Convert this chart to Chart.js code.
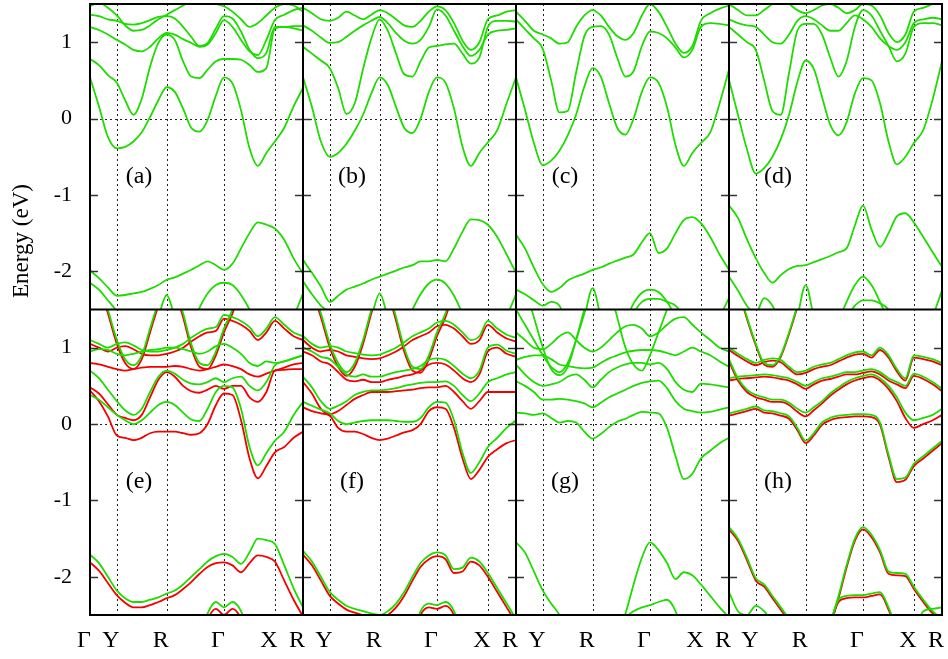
<!DOCTYPE html>
<html>
<head>
<meta charset="utf-8">
<script src="https://cdn.jsdelivr.net/npm/chart.js@4.4.1/dist/chart.umd.min.js"></script>
<style>
  html, body { margin: 0; padding: 0; background: #fff; }
  #wrap { width: 948px; height: 659px; }
</style>
</head>
<body>
<div id="wrap"><canvas id="bands" width="948" height="659"></canvas></div>
<script>
// k-path sample positions (fraction of one panel) and symmetry points
const kFrac = [0, 0.042, 0.084, 0.126, 0.165, 0.204, 0.243, 0.282, 0.321, 0.36, 0.398, 0.437, 0.475,
               0.514, 0.552, 0.591, 0.629, 0.669, 0.709, 0.749, 0.788, 0.828, 0.868, 0.912, 0.956, 1.0];
const nodeFrac = [0, 0.126, 0.36, 0.629, 0.868, 1];
const nodeNames = ['Γ', 'Y', 'R', 'Γ', 'X', 'R'];
const panelTags = ['(a)', '(b)', '(c)', '(d)', '(e)', '(f)', '(g)', '(h)'];
const energyTicks = [1, 0, -1, -2];
const eMin = -2.5, eMax = 1.5;

// band that only shows on part of the path
function part(start, vals) {
    const a = new Array(kFrac.length).fill(null);
    vals.forEach((v, i) => { a[start + i] = v; });
    return a;
}

// ---- (a)
const a1 = [0.54, 0.16, -0.24, -0.39, -0.37, -0.30, -0.18, 0.02, 0.24, 0.41, 0.35, 0.13, -0.12, -0.17, -0.02, 0.30, 0.54, 0.46, 0.11, -0.39, -0.62, -0.45, -0.30, -0.12, 0.16, 0.40];
const a2 = [0.78, 0.70, 0.57, 0.47, 0.24, 0.05, 0.26, 0.68, 0.99, 1.10, 1.03, 0.75, 0.55, 0.53, 0.64, 0.75, 0.78, 0.78, 0.77, 0.70, 0.61, 0.66, 1.18, 1.20, 1.21, 1.21];
const a3 = [1.20, 1.16, 1.10, 1.03, 0.97, 0.90, 0.88, 0.94, 1.05, 1.12, 1.10, 1.04, 0.99, 0.94, 0.97, 1.12, 1.29, 1.20, 1.03, 0.88, 0.83, 1.03, 1.29, 1.36, 1.42, 1.45];
const a4 = [1.36, 1.34, 1.30, 1.28, 1.24, 1.23, 1.25, 1.29, 1.33, 1.34, 1.31, 1.20, 1.07, 0.95, 0.99, 1.18, 1.34, 1.31, 1.14, 0.90, 0.79, 0.86, 1.20, 1.20, 1.18, 1.15];
const a5 = [1.47, 1.52, 1.45, 1.35, 1.22, 1.15, 1.16, 1.22, 1.30, 1.36, 1.42, 1.48, 1.55, 1.58, 1.55, 1.50, 1.47, 1.40, 1.30, 1.20, 1.25, 1.35, 1.45, 1.50, 1.48, 1.40];
const aV1 = [-1.99, -2.09, -2.21, -2.32, -2.31, -2.29, -2.27, -2.23, -2.18, -2.11, -2.08, -2.03, -1.98, -1.92, -1.87, -1.92, -1.98, -1.90, -1.70, -1.50, -1.36, -1.39, -1.44, -1.59, -1.83, -2.03];
const aV2 = part(0, [-2.15, -2.24, -2.38, -2.53, -2.75]);
const aV3 = part(12, [-2.75, -2.48, -2.29, -2.18, -2.15, -2.18, -2.31, -2.50, -2.75]);
const aV4 = part(8, [-2.60, -2.31, -2.60]);
const aV5 = part(24, [-2.60, -2.29]);

// ---- (b)
const b1 = [0.54, 0.15, -0.30, -0.50, -0.45, -0.33, -0.16, 0.05, 0.33, 0.54, 0.44, 0.15, -0.12, -0.19, 0.00, 0.35, 0.54, 0.47, 0.13, -0.37, -0.62, -0.45, -0.31, -0.15, 0.20, 0.54];
const b2 = [0.94, 0.85, 0.76, 0.66, 0.40, 0.06, 0.20, 0.65, 1.05, 1.30, 1.15, 0.85, 0.58, 0.55, 0.75, 0.93, 0.95, 0.97, 0.98, 0.85, 0.72, 0.80, 1.20, 1.28, 1.28, 1.27];
const b3 = [1.22, 1.15, 1.06, 0.99, 1.00, 1.07, 1.15, 1.22, 1.28, 1.33, 1.25, 1.12, 1.02, 0.98, 1.03, 1.20, 1.43, 1.35, 1.15, 0.95, 0.82, 0.90, 1.10, 1.15, 1.16, 1.18];
const b4 = [1.45, 1.38, 1.30, 1.28, 1.32, 1.40, 1.35, 1.30, 1.36, 1.42, 1.38, 1.30, 1.22, 1.20, 1.28, 1.40, 1.47, 1.42, 1.25, 1.02, 0.90, 1.00, 1.30, 1.35, 1.40, 1.42];
const bV1 = [-1.85, -2.02, -2.20, -2.40, -2.32, -2.24, -2.20, -2.16, -2.11, -2.07, -2.03, -1.99, -1.95, -1.92, -1.87, -1.87, -1.85, -1.87, -1.70, -1.48, -1.32, -1.33, -1.39, -1.55, -1.78, -2.02];
const bV2 = part(0, [-2.13, -2.30, -2.45, -2.55, -2.75]);
const bV3 = part(12, [-2.75, -2.50, -2.30, -2.16, -2.11, -2.16, -2.32, -2.55, -2.75]);
const bV4 = part(8, [-2.60, -2.29, -2.60]);
const bV5 = part(24, [-2.60, -2.30]);

// ---- (c)
const c1 = [0.54, 0.12, -0.32, -0.61, -0.55, -0.42, -0.22, 0.05, 0.42, 0.66, 0.55, 0.20, -0.12, -0.21, 0.00, 0.35, 0.54, 0.47, 0.15, -0.35, -0.62, -0.45, -0.32, -0.18, 0.20, 0.64];
const c2 = [1.30, 1.17, 1.05, 0.91, 0.50, 0.08, 0.10, 0.60, 1.08, 1.20, 1.21, 1.10, 0.80, 0.55, 0.62, 0.95, 1.14, 1.12, 1.05, 0.93, 0.80, 0.90, 1.20, 1.25, 1.24, 1.22];
const c3 = [1.40, 1.28, 1.15, 1.10, 1.05, 0.98, 1.00, 1.20, 1.35, 1.42, 1.35, 1.20, 1.08, 1.03, 1.12, 1.35, 1.50, 1.40, 1.20, 0.98, 0.86, 0.95, 1.28, 1.38, 1.44, 1.48];
const cV1 = [-1.52, -1.70, -1.95, -2.17, -2.27, -2.22, -2.12, -2.07, -2.03, -1.98, -1.95, -1.90, -1.86, -1.82, -1.78, -1.62, -1.50, -1.76, -1.70, -1.50, -1.33, -1.29, -1.37, -1.55, -1.78, -1.98];
const cV2 = part(0, [-2.24, -2.30, -2.38, -2.45, -2.40, -2.45, -2.70]);
const cV3 = part(13, [-2.65, -2.42, -2.28, -2.24, -2.27, -2.40, -2.60, -2.85]);
const cV4 = part(13, [-2.80, -2.55, -2.40, -2.36, -2.36, -2.40, -2.45, -2.60, -2.85]);
const cV5 = part(8, [-2.60, -2.22, -2.60]);
const cV6 = part(24, [-2.60, -2.35]);

// ---- (d)
const d1 = [0.51, 0.05, -0.40, -0.72, -0.65, -0.50, -0.27, 0.05, 0.48, 0.76, 0.65, 0.28, -0.08, -0.22, -0.05, 0.33, 0.53, 0.50, 0.20, -0.30, -0.60, -0.50, -0.32, -0.15, 0.25, 0.75];
const d2 = [1.20, 1.10, 1.00, 0.90, 0.50, 0.10, 0.05, 0.60, 1.15, 1.24, 1.24, 1.10, 0.80, 0.55, 0.75, 1.20, 1.42, 1.35, 1.15, 0.95, 0.75, 0.85, 1.20, 1.25, 1.25, 1.22];
const d3 = [1.30, 1.25, 1.22, 1.20, 1.10, 1.00, 0.98, 1.10, 1.28, 1.34, 1.30, 1.22, 1.15, 1.15, 1.25, 1.35, 1.30, 1.20, 1.05, 0.95, 0.90, 1.00, 1.25, 1.30, 1.32, 1.30];
const d4 = [1.50, 1.42, 1.35, 1.35, 1.42, 1.50, 1.55, 1.50, 1.42, 1.38, 1.42, 1.48, 1.50, 1.45, 1.38, 1.42, 1.50, 1.48, 1.35, 1.12, 1.00, 1.10, 1.40, 1.45, 1.50, 1.55];
const dV1 = [-1.14, -1.30, -1.58, -1.83, -2.02, -2.15, -2.05, -1.97, -1.93, -1.92, -1.88, -1.84, -1.80, -1.75, -1.70, -1.40, -1.14, -1.45, -1.68, -1.50, -1.28, -1.24, -1.36, -1.55, -1.75, -1.94];
const dV2 = part(0, [-2.07, -2.25, -2.45, -2.55, -2.35, -2.45, -2.70]);
const dV3 = part(13, [-2.65, -2.40, -2.18, -2.07, -2.18, -2.40, -2.65]);
const dV4 = part(14, [-2.60, -2.45, -2.38, -2.38, -2.42, -2.50, -2.70]);
const dV5 = part(8, [-2.60, -2.18, -2.60]);
const dV6 = part(24, [-2.60, -2.25]);

// ---- (e)
const eG1 = [0.38, 0.32, 0.22, 0.12, 0.05, 0.00, 0.05, 0.15, 0.25, 0.29, 0.25, 0.15, 0.06, 0.04, 0.20, 0.42, 0.50, 0.48, 0.20, -0.30, -0.54, -0.38, -0.22, -0.10, 0.12, 0.29];
const eR1 = [0.44, 0.30, 0.10, -0.15, -0.18, -0.21, -0.18, -0.12, -0.10, -0.10, -0.10, -0.12, -0.14, -0.12, 0.00, 0.25, 0.40, 0.38, 0.05, -0.45, -0.71, -0.55, -0.37, -0.30, -0.18, -0.10];
const eG2 = [0.70, 0.60, 0.45, 0.30, 0.18, 0.12, 0.20, 0.42, 0.62, 0.70, 0.66, 0.58, 0.53, 0.52, 0.55, 0.60, 0.55, 0.60, 0.62, 0.50, 0.44, 0.55, 0.77, 0.82, 0.86, 0.90];
const eR2 = [0.48, 0.40, 0.26, 0.12, 0.08, 0.05, 0.12, 0.35, 0.58, 0.68, 0.62, 0.50, 0.43, 0.41, 0.45, 0.50, 0.46, 0.50, 0.50, 0.35, 0.29, 0.42, 0.70, 0.71, 0.72, 0.72];
const eG3 = [0.95, 0.98, 0.97, 0.92, 0.90, 0.92, 0.95, 0.97, 0.98, 1.00, 1.00, 0.98, 0.95, 0.92, 0.95, 1.02, 1.05, 1.00, 0.92, 0.80, 0.76, 0.82, 0.80, 0.82, 0.86, 0.90];
const eR3 = [0.80, 0.78, 0.75, 0.72, 0.70, 0.72, 0.74, 0.75, 0.75, 0.75, 0.76, 0.75, 0.72, 0.70, 0.72, 0.75, 0.78, 0.76, 0.72, 0.65, 0.62, 0.66, 0.70, 0.74, 0.78, 0.80];
const eG4 = [1.10, 1.05, 1.00, 1.05, 1.07, 1.03, 0.97, 0.95, 0.95, 0.97, 1.00, 1.05, 1.13, 1.20, 1.25, 1.27, 1.43, 1.40, 1.35, 1.27, 1.15, 1.25, 1.40, 1.30, 1.20, 1.15];
const eR4 = [1.05, 1.00, 0.95, 1.00, 1.02, 0.98, 0.92, 0.90, 0.90, 0.92, 0.95, 1.00, 1.08, 1.15, 1.20, 1.22, 1.38, 1.35, 1.30, 1.22, 1.10, 1.20, 1.35, 1.25, 1.15, 1.10];
const eG5 = part(1, [1.90, 1.50, 1.10, 0.85, 0.77, 0.90, 1.25, 1.60, 1.90]);
const eR5 = part(1, [1.85, 1.45, 1.05, 0.80, 0.72, 0.85, 1.20, 1.55, 1.85]);
const eG6 = part(10, [1.80, 1.45, 1.05, 0.80, 0.77, 0.95, 1.25, 1.50, 1.80]);
const eR6 = part(10, [1.75, 1.40, 1.00, 0.75, 0.72, 0.90, 1.20, 1.45, 1.75]);
const eGV1 = [-1.71, -1.82, -2.00, -2.18, -2.28, -2.33, -2.33, -2.30, -2.27, -2.22, -2.18, -2.10, -2.00, -1.90, -1.80, -1.73, -1.70, -1.74, -1.83, -1.68, -1.50, -1.52, -1.57, -1.85, -2.15, -2.40];
const eRV1 = [-1.81, -1.92, -2.08, -2.24, -2.34, -2.40, -2.40, -2.37, -2.33, -2.28, -2.24, -2.16, -2.07, -1.96, -1.87, -1.82, -1.81, -1.85, -1.94, -1.82, -1.72, -1.74, -1.80, -2.05, -2.30, -2.52];
const eGV2 = part(13, [-2.80, -2.48, -2.33, -2.40, -2.33, -2.45, -2.80]);
const eRV2 = part(13, [-2.90, -2.56, -2.42, -2.50, -2.42, -2.55, -2.90]);

// ---- (f)
const fG1 = [0.29, 0.24, 0.19, 0.14, 0.04, 0.00, 0.02, 0.04, 0.05, 0.05, 0.05, 0.04, 0.03, 0.03, 0.08, 0.22, 0.29, 0.28, 0.05, -0.38, -0.64, -0.50, -0.30, -0.18, -0.05, 0.05];
const fR1 = [0.22, 0.17, 0.14, 0.11, -0.05, -0.10, -0.10, -0.13, -0.18, -0.21, -0.19, -0.15, -0.11, -0.08, 0.00, 0.17, 0.22, 0.20, -0.05, -0.45, -0.72, -0.60, -0.43, -0.33, -0.25, -0.21];
const fG2 = [0.62, 0.48, 0.30, 0.20, 0.24, 0.30, 0.38, 0.42, 0.44, 0.44, 0.45, 0.47, 0.50, 0.52, 0.54, 0.55, 0.55, 0.56, 0.50, 0.38, 0.30, 0.40, 0.55, 0.60, 0.65, 0.68];
const fR2 = [0.55, 0.40, 0.20, 0.13, 0.17, 0.25, 0.33, 0.38, 0.42, 0.42, 0.42, 0.43, 0.44, 0.45, 0.47, 0.48, 0.48, 0.50, 0.42, 0.30, 0.20, 0.30, 0.42, 0.42, 0.42, 0.42];
const fG3 = [1.00, 0.95, 0.88, 0.85, 0.75, 0.65, 0.62, 0.65, 0.62, 0.62, 0.65, 0.68, 0.70, 0.72, 0.76, 0.84, 0.86, 0.84, 0.76, 0.66, 0.60, 0.70, 1.00, 1.04, 0.96, 0.92];
const fR3 = [0.95, 0.90, 0.82, 0.78, 0.68, 0.58, 0.56, 0.58, 0.55, 0.55, 0.58, 0.60, 0.63, 0.65, 0.70, 0.78, 0.80, 0.78, 0.70, 0.60, 0.55, 0.65, 0.95, 1.00, 0.92, 0.88];
const fG4 = [1.15, 1.05, 1.00, 1.02, 1.00, 0.95, 0.93, 0.91, 0.90, 0.91, 0.95, 1.00, 1.07, 1.15, 1.20, 1.25, 1.33, 1.35, 1.30, 1.20, 1.10, 1.15, 1.35, 1.25, 1.17, 1.13];
const fR4 = [1.10, 1.00, 0.95, 0.97, 0.95, 0.90, 0.88, 0.86, 0.85, 0.86, 0.90, 0.95, 1.02, 1.10, 1.15, 1.20, 1.28, 1.30, 1.25, 1.15, 1.05, 1.10, 1.30, 1.20, 1.12, 1.08];
const fG5 = part(1, [1.80, 1.45, 1.05, 0.80, 0.68, 0.80, 1.10, 1.50, 1.85]);
const fR5 = part(1, [1.75, 1.40, 1.00, 0.75, 0.63, 0.75, 1.05, 1.45, 1.80]);
const fG6 = part(10, [1.80, 1.40, 1.00, 0.75, 0.72, 0.90, 1.20, 1.45, 1.80]);
const fR6 = part(10, [1.75, 1.35, 0.95, 0.70, 0.67, 0.85, 1.15, 1.40, 1.75]);
const fGV1 = [-1.66, -1.80, -2.00, -2.20, -2.30, -2.38, -2.42, -2.45, -2.48, -2.50, -2.45, -2.35, -2.20, -2.00, -1.82, -1.72, -1.68, -1.72, -1.90, -1.88, -1.75, -1.80, -1.95, -2.15, -2.35, -2.55];
const fRV1 = [-1.71, -1.85, -2.05, -2.25, -2.35, -2.43, -2.47, -2.50, -2.53, -2.55, -2.50, -2.40, -2.25, -2.05, -1.87, -1.77, -1.73, -1.77, -1.95, -1.93, -1.80, -1.85, -2.00, -2.20, -2.40, -2.60];
const fGV2 = part(13, [-2.80, -2.45, -2.35, -2.37, -2.33, -2.45, -2.80]);
const fRV2 = part(13, [-2.85, -2.50, -2.40, -2.42, -2.38, -2.50, -2.85]);

// ---- (g)
const g1 = [0.15, 0.14, 0.12, 0.14, 0.08, 0.02, 0.04, 0.02, -0.10, -0.19, -0.13, -0.04, 0.03, 0.07, 0.12, 0.16, 0.15, 0.14, -0.05, -0.42, -0.72, -0.65, -0.45, -0.35, -0.25, -0.18];
const g2 = [0.56, 0.50, 0.42, 0.32, 0.32, 0.33, 0.32, 0.30, 0.27, 0.22, 0.28, 0.35, 0.40, 0.45, 0.50, 0.54, 0.56, 0.57, 0.47, 0.30, 0.20, 0.17, 0.15, 0.16, 0.19, 0.22];
const g3 = [0.78, 0.65, 0.55, 0.50, 0.52, 0.55, 0.62, 0.65, 0.58, 0.48, 0.58, 0.68, 0.74, 0.78, 0.80, 0.80, 0.78, 0.80, 0.72, 0.55, 0.45, 0.42, 0.53, 0.52, 0.50, 0.48];
const g4 = [0.84, 0.88, 0.90, 0.90, 0.85, 0.78, 0.76, 0.74, 0.73, 0.74, 0.80, 0.86, 0.90, 0.94, 0.96, 0.97, 0.97, 0.96, 0.93, 0.90, 0.95, 1.00, 0.95, 0.90, 0.82, 0.75];
const g5 = [1.20, 1.10, 1.00, 0.98, 1.05, 1.15, 1.20, 1.10, 1.00, 0.95, 1.00, 1.10, 1.20, 1.28, 1.30, 1.25, 1.15, 1.20, 1.30, 1.38, 1.40, 1.30, 1.20, 1.10, 1.00, 0.95];
const g6 = part(1, [1.80, 1.40, 1.00, 0.72, 0.64, 0.75, 1.10, 1.50, 1.85]);
const g7 = part(0, [1.50, 1.30, 1.10, 0.90, 0.75, 0.68, 0.80, 1.10, 1.45, 1.80]);
const g8 = part(11, [1.80, 1.40, 1.00, 0.78, 0.70, 0.90, 1.20, 1.50]);
const gV1 = [-1.55, -1.68, -1.93, -2.18, -2.35, -2.50, -2.75, -3.00, -3.10, -3.10, -3.05, -3.00, -2.75, -2.48, -2.10, -1.75, -1.55, -1.65, -1.82, -2.03, -1.94, -1.98, -2.10, -2.25, -2.40, -2.53];
const gV2 = part(12, [-2.80, -2.55, -2.45, -2.40, -2.37, -2.33, -2.30, -2.45, -2.80]);

// ---- (h)
const hG1 = [0.14, 0.17, 0.20, 0.23, 0.18, 0.17, 0.14, 0.10, -0.05, -0.22, -0.12, 0.02, 0.08, 0.11, 0.12, 0.13, 0.13, 0.12, 0.02, -0.40, -0.72, -0.70, -0.52, -0.42, -0.32, -0.22];
const hR1 = [0.11, 0.14, 0.17, 0.20, 0.15, 0.14, 0.11, 0.07, -0.08, -0.25, -0.15, -0.01, 0.05, 0.08, 0.09, 0.10, 0.10, 0.09, -0.01, -0.43, -0.76, -0.73, -0.55, -0.45, -0.35, -0.25];
const hG2 = [0.85, 0.60, 0.45, 0.38, 0.35, 0.32, 0.32, 0.28, 0.20, 0.15, 0.22, 0.30, 0.40, 0.48, 0.55, 0.60, 0.63, 0.65, 0.60, 0.50, 0.35, 0.15, 0.05, 0.08, 0.12, 0.20];
const hR2 = [0.82, 0.57, 0.42, 0.35, 0.32, 0.29, 0.29, 0.25, 0.16, 0.10, 0.18, 0.27, 0.37, 0.45, 0.52, 0.57, 0.60, 0.62, 0.57, 0.46, 0.30, 0.08, -0.05, 0.00, 0.05, 0.12];
const hG3 = [0.60, 0.62, 0.63, 0.64, 0.65, 0.64, 0.62, 0.60, 0.55, 0.50, 0.55, 0.60, 0.62, 0.65, 0.68, 0.68, 0.70, 0.72, 0.68, 0.60, 0.55, 0.50, 0.66, 0.62, 0.55, 0.46];
const hR3 = [0.57, 0.59, 0.60, 0.61, 0.62, 0.61, 0.59, 0.57, 0.52, 0.46, 0.52, 0.57, 0.59, 0.62, 0.65, 0.65, 0.67, 0.69, 0.65, 0.57, 0.52, 0.47, 0.63, 0.59, 0.52, 0.43];
const hG4 = [1.00, 0.92, 0.85, 0.80, 0.84, 0.86, 0.84, 0.75, 0.68, 0.70, 0.75, 0.78, 0.80, 0.85, 0.90, 0.94, 0.95, 0.90, 1.00, 0.90, 0.72, 0.60, 0.90, 0.88, 0.85, 0.80];
const hR4 = [0.97, 0.89, 0.82, 0.77, 0.81, 0.83, 0.81, 0.72, 0.65, 0.67, 0.72, 0.75, 0.77, 0.82, 0.87, 0.91, 0.92, 0.87, 0.97, 0.87, 0.69, 0.57, 0.87, 0.85, 0.82, 0.77];
const hG5 = part(1, [1.80, 1.40, 1.05, 0.80, 0.77, 0.90, 1.20, 1.55, 1.90]);
const hR5 = part(1, [1.78, 1.38, 1.03, 0.78, 0.75, 0.88, 1.18, 1.53, 1.88]);
const hGV1 = [-1.35, -1.50, -1.75, -2.02, -2.10, -2.25, -2.40, -2.55, -2.70, -2.80, -2.80, -2.75, -2.60, -2.25, -1.85, -1.50, -1.35, -1.45, -1.65, -1.93, -1.95, -1.96, -2.13, -2.30, -2.45, -2.55];
const hRV1 = [-1.38, -1.53, -1.78, -2.05, -2.13, -2.28, -2.43, -2.58, -2.73, -2.83, -2.83, -2.78, -2.63, -2.28, -1.88, -1.53, -1.38, -1.48, -1.68, -1.96, -1.98, -1.99, -2.16, -2.33, -2.48, -2.58];
const hGV2 = part(12, [-2.60, -2.30, -2.25, -2.24, -2.24, -2.22, -2.20, -2.40, -2.70]);
const hRV2 = part(12, [-2.63, -2.33, -2.28, -2.27, -2.27, -2.25, -2.23, -2.43, -2.73]);
const hGV3 = part(0, [-2.20, -2.45, -2.50, -2.38, -2.45, -2.60, -2.80]);
const hGV4 = part(22, [-2.80, -2.45, -2.42, -2.40]);

const panels = [
    { green: [a1, a2, a3, a4, a5, aV1, aV2, aV3, aV4, aV5], red: [] },
    { green: [b1, b2, b3, b4, bV1, bV2, bV3, bV4, bV5], red: [] },
    { green: [c1, c2, c3, cV1, cV2, cV3, cV4, cV5, cV6], red: [] },
    { green: [d1, d2, d3, d4, dV1, dV2, dV3, dV4, dV5, dV6], red: [] },
    { green: [eG1, eG2, eG3, eG4, eG5, eG6, eGV1, eGV2], red: [eR1, eR2, eR3, eR4, eR5, eR6, eRV1, eRV2] },
    { green: [fG1, fG2, fG3, fG4, fG5, fG6, fGV1, fGV2], red: [fR1, fR2, fR3, fR4, fR5, fR6, fRV1, fRV2] },
    { green: [g1, g2, g3, g4, g5, g6, g7, g8, gV1, gV2], red: [] },
    { green: [hG1, hG2, hG3, hG4, hG5, hGV1, hGV2, hGV3, hGV4], red: [hR1, hR2, hR3, hR4, hR5, hRV1, hRV2] }
];

const GREEN = 'rgb(30, 220, 0)';
const RED = 'rgb(245, 0, 0)';
const rowShift = eMax - eMin; // lower row sits one window below

const datasets = [];
panels.forEach((p, n) => {
    const col = n % 4, row = Math.floor(n / 4);
    const add = (band, color, order) => datasets.push({
        data: kFrac.map((f, i) => ({ x: col + f, y: band[i] === null ? null : band[i] - row * rowShift })),
        borderColor: color,
        order: order,
        col: col,
        row: row
    });
    p.red.forEach(b => add(b, RED, 1));
    p.green.forEach(b => add(b, GREEN, 0));
});

// x ticks: Γ at the start, then Y R Γ X R for every panel
const xTicks = [0], xLabels = [nodeNames[0]];
for (let c = 0; c < 4; c++) {
    for (let j = 1; j < nodeFrac.length; j++) {
        xTicks.push(c + nodeFrac[j]);
        xLabels.push(nodeNames[j]);
    }
}
const yTicks = [];
[0, 1].forEach(r => energyTicks.forEach(e => yTicks.push(e - r * rowShift)));

const frame = {
    id: 'frame',
    beforeDatasetsDraw(chart) {
        const { ctx, chartArea: a, scales: { x, y } } = chart;
        ctx.save();
        ctx.strokeStyle = '#222';
        ctx.lineWidth = 1;
        ctx.setLineDash([2, 3]);
        for (let c = 0; c < 4; c++) {
            for (let j = 1; j < nodeFrac.length - 1; j++) {
                const px = Math.round(x.getPixelForValue(c + nodeFrac[j])) + 0.5;
                ctx.beginPath(); ctx.moveTo(px, a.top); ctx.lineTo(px, a.bottom); ctx.stroke();
            }
        }
        [0, -rowShift].forEach(v => {
            const py = Math.round(y.getPixelForValue(v)) + 0.5;
            ctx.beginPath(); ctx.moveTo(a.left, py); ctx.lineTo(a.right, py); ctx.stroke();
        });
        ctx.restore();
    },
    beforeDatasetDraw(chart, args) {
        const ds = chart.data.datasets[args.index];
        const { ctx, scales: { x, y } } = chart;
        const x0 = x.getPixelForValue(ds.col), x1 = x.getPixelForValue(ds.col + 1);
        const y0 = y.getPixelForValue(eMax - ds.row * rowShift), y1 = y.getPixelForValue(eMin - ds.row * rowShift);
        ctx.save();
        ctx.beginPath();
        ctx.rect(x0, y0, x1 - x0, y1 - y0);
        ctx.clip();
    },
    afterDatasetDraw(chart) {
        chart.ctx.restore();
    },
    afterDatasetsDraw(chart) {
        const { ctx, chartArea: a, scales: { x, y } } = chart;
        ctx.save();
        // short inward tick marks on both sides of every panel
        ctx.strokeStyle = '#333';
        ctx.lineWidth = 1.5;
        for (let c = 0; c < 4; c++) {
            const xl = x.getPixelForValue(c), xr = x.getPixelForValue(c + 1);
            yTicks.forEach(v => {
                const py = Math.round(y.getPixelForValue(v)) + 0.5;
                ctx.beginPath(); ctx.moveTo(xl, py); ctx.lineTo(xl + 8, py); ctx.stroke();
                ctx.beginPath(); ctx.moveTo(xr - 8, py); ctx.lineTo(xr, py); ctx.stroke();
            });
        }
        // panel frames
        ctx.strokeStyle = '#000';
        ctx.lineWidth = 2;
        ctx.strokeRect(a.left, a.top, a.right - a.left, a.bottom - a.top);
        for (let c = 1; c < 4; c++) {
            const px = x.getPixelForValue(c);
            ctx.beginPath(); ctx.moveTo(px, a.top); ctx.lineTo(px, a.bottom); ctx.stroke();
        }
        const pm = y.getPixelForValue(eMin);
        ctx.beginPath(); ctx.moveTo(a.left, pm); ctx.lineTo(a.right, pm); ctx.stroke();
        // panel tags
        ctx.fillStyle = '#000';
        ctx.font = '24px "Liberation Serif"';
        ctx.textAlign = 'center';
        ctx.textBaseline = 'middle';
        panelTags.forEach((t, n) => {
            const col = n % 4, row = Math.floor(n / 4);
            ctx.fillText(t, x.getPixelForValue(col + 0.23), y.getPixelForValue(-0.76 - row * rowShift));
        });
        // axis title
        ctx.font = '23px "Liberation Serif"';
        ctx.translate(22, 241);
        ctx.rotate(-Math.PI / 2);
        ctx.fillText('Energy (eV)', 0, 0);
        ctx.restore();
    }
};

new Chart(document.getElementById('bands'), {
    type: 'line',
    data: { datasets: datasets },
    options: {
        responsive: false,
        animation: false,
        devicePixelRatio: 1,
        layout: { padding: { left: 0, right: 6, top: 4, bottom: 0 } },
        plugins: { legend: { display: false }, tooltip: { enabled: false } },
        elements: {
            point: { radius: 0 },
            line: { borderWidth: 1.8, cubicInterpolationMode: 'monotone', fill: false }
        },
        scales: {
            x: {
                type: 'linear', min: 0, max: 4,
                grid: { display: false, drawTicks: false },
                border: { display: false },
                afterBuildTicks: s => { s.ticks = xTicks.map(v => ({ value: v })); },
                afterFit: s => { s.height = 44; s.paddingLeft = 0; s.paddingRight = 0; },
                ticks: {
                    autoSkip: false, maxRotation: 0, padding: 11, labelOffset: -6, color: '#000',
                    font: { family: 'Liberation Serif', size: 24 },
                    callback: (v, i) => xLabels[i]
                }
            },
            y: {
                type: 'linear', min: eMin - rowShift, max: eMax,
                grid: { display: false, drawTicks: false },
                border: { display: false },
                afterBuildTicks: s => { s.ticks = yTicks.map(v => ({ value: v })); },
                afterFit: s => { s.width = 90; s.paddingTop = 0; s.paddingBottom = 0; },
                ticks: {
                    autoSkip: false, padding: 18, color: '#000',
                    font: { family: 'Liberation Serif', size: 22 },
                    callback: v => String(v < eMin ? Math.round(v + rowShift) : v)
                }
            }
        }
    },
    plugins: [frame]
});
</script>
</body>
</html>
